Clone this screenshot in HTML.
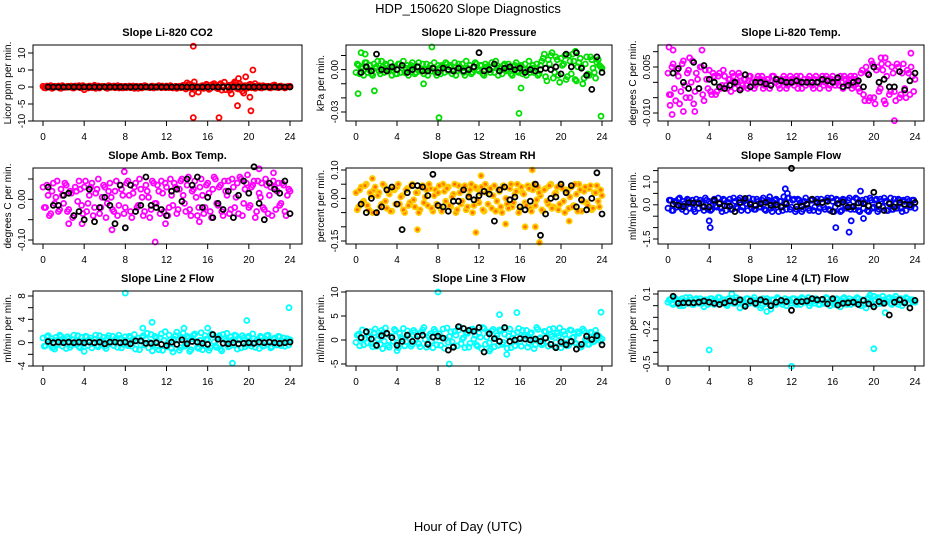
<!DOCTYPE html>
<html><head><meta charset="utf-8"><style>
html,body{margin:0;padding:0;background:#fff;}
svg{display:block;font-family:"Liberation Sans",sans-serif;}
</style></head><body>
<svg id="chart" width="936" height="540" viewBox="0 0 936 540" xmlns="http://www.w3.org/2000/svg">
<text x="468" y="13" font-size="13" text-anchor="middle">HDP_150620  Slope Diagnostics</text>
<text x="468" y="531" font-size="13" text-anchor="middle">Hour of Day (UTC)</text>
</svg>
<script>
// ---------- data ----------
const xTicks = [0,4,8,12,16,20,24];
const titles = ["Slope Li-820 CO2","Slope Li-820 Pressure","Slope Li-820 Temp.","Slope Amb. Box Temp.","Slope Gas Stream RH","Slope Sample Flow","Slope Line 2 Flow","Slope Line 3 Flow","Slope Line 4 (LT) Flow"];
const yTitles = ["Licor ppm per min.","kPa per min.","degrees C per min.","degrees C per min.","percent per min.","ml/min per min.","ml/min per min.","ml/min per min.","ml/min per min."];
const colors = ["#ff0000","#00dd00","#ff00ff","#ff00ff","#ffcc00","#0000ff","#00ffff","#00ffff","#00ffff"];
const fills = ["none","none","none","none","#ff7000","none","none","none","none"];

const c1 = [0.2,-0.3,0.1,0.4,-0.2,0,0.3,-0.4,0.1,-0.1,0.2,0.3,-0.3,0,0.4,-0.2,-0.8,0.1,0.3,-0.2,0.5,0,-0.3,0.2,0.1,-0.4,0.3,0,-0.2,0.4,0.1,-0.3,0.2,0,-0.2,0.3,0.1,-0.4,0.2,0,0.3,-0.1,0.2,-0.3,0.1,0.4,-0.2,0,0.3,-0.2,0.1,0,-0.4,0.2,0.3,-0.1,1.2,0.8,-0.5,0.2,0.1,-0.3,0.4,0,0.6,-0.4,0.8,0.2,-0.5,1,0.4,-0.8,0.5,-0.3,0.9,1.2,-0.6,0.3,0.2,-0.4,0.6,-0.2,0.3,0,0.4,-0.3,0.1,0.2,-0.2,0.3,0.6,-0.1,0.2,0,-0.3,0.1,0.2];
const c2 = [-0.002,0.003,0.001,-0.004,0.005,0,-0.003,0.004,0.002,-0.001,0.006,-0.002,0.003,0,-0.004,0.002,-0.003,0.004,0.001,-0.002,0.003,0,0.005,-0.003,0.002,-0.001,0.004,0,-0.004,0.003,0.001,-0.002,0.003,-0.003,0.002,0.005,-0.001,0.003,0,-0.004,0.004,0.001,-0.002,0.006,0,-0.003,0.002,0.004,-0.001,0.003,-0.004,0.002,0,0.005,-0.002,0.003,0.001,-0.003,0.004,0,0.002,-0.004,0.003,-0.001,0.002,-0.003,0.004,0,-0.002,0.003,0.001,-0.004,0.003,0.008,-0.005,0.007,0.010,-0.006,0.009,-0.004,0.008,0.004,-0.007,0.010,-0.003,0.006,-0.008,0.005,0.002,-0.006,0.009,-0.004,0.007,-0.002,0.005,0.003,0.001];
const c3 = [0.003,-0.004,0.006,-0.006,0.002,-0.003,0.007,-0.005,0.004,0,-0.007,0.003,-0.002,0.005,-0.006,0.001,0.004,-0.004,0.002,-0.003,0.003,-0.001,0.002,-0.002,0.001,0.003,-0.002,0,0.002,-0.001,0.001,-0.002,0.002,0,-0.001,0.002,0.001,-0.002,0,0.001,-0.001,0.002,0,-0.001,0.001,0.002,-0.002,0,0.001,-0.001,0.002,0,-0.002,0.001,0,0.002,-0.001,0.001,0,-0.002,0.002,0,0.001,-0.001,0.002,-0.001,0,0.002,-0.002,0.001,0,0.002,-0.001,0.001,-0.002,0.003,-0.004,0.005,-0.006,0.007,-0.005,0.004,-0.003,0.006,-0.006,0.002,-0.004,0.005,-0.003,0.006,-0.005,0.003,-0.002,0.004,-0.004,0.002,0.001];
const c4 = [0.03,-0.02,0.01,-0.035,0.04,0.005,-0.03,0.025,-0.01,0.035,-0.025,0.015,-0.04,0.02,0.045,-0.015,0.03,-0.03,0.01,0.04,-0.02,0.025,-0.035,0.005,0.03,-0.01,0.04,-0.025,0.02,-0.04,0.035,0.01,-0.02,0.045,-0.03,0.015,0.04,-0.015,0.025,-0.04,0.035,0.005,-0.025,0.04,-0.01,0.02,0.045,-0.03,0.03,-0.02,0.01,0.04,-0.035,0.025,0.05,-0.01,0.035,-0.025,0.02,0.045,-0.04,0.03,0.01,-0.02,0.04,-0.03,0.025,0.05,-0.015,0.035,-0.04,0.02,0.045,-0.025,0.03,0.005,-0.035,0.05,-0.01,0.04,-0.02,0.03,0.045,-0.03,0.015,0.04,-0.025,0.035,0.01,-0.04,0.03,0.02,-0.015,0.04,-0.03,0.01,0.02];
const c5 = [0.02,-0.03,0.04,-0.01,0.05,-0.04,0.01,0.03,-0.05,0.02,-0.02,0.045,-0.035,0.015,-0.045,0.03,0.04,-0.02,0.01,-0.05,0.035,-0.015,0.05,-0.03,0.02,-0.04,0.045,0.005,-0.025,0.035,-0.045,0.03,0.02,-0.035,0.05,-0.01,0.04,-0.03,0.015,-0.05,0.045,-0.02,0.03,-0.04,0.01,0.05,-0.025,0.035,-0.015,0.04,-0.045,0.02,0.03,-0.035,0.045,-0.01,0.025,-0.05,0.04,-0.02,0.035,-0.03,0.015,0.05,-0.04,0.02,-0.015,0.045,-0.035,0.03,-0.025,0.04,0.01,-0.045,0.035,-0.02,0.05,-0.03,0.02,-0.04,0.045,-0.01,0.03,-0.035,0.04,-0.025,0.015,0.05,-0.045,0.025,-0.015,0.035,-0.04,0.02,0.045,-0.03,0.01];
const c6 = [-0.15,0.2,-0.25,0.1,0.25,-0.1,0.15,-0.3,0.2,0.05,-0.2,0.25,-0.15,0.1,-0.25,0.2,0.15,-0.2,0.25,-0.1,0.1,-0.3,0.2,-0.05,0.25,-0.2,0.15,-0.15,0.3,-0.1,0.2,-0.25,0.1,0.25,-0.2,0.15,-0.1,0.3,-0.25,0.2,-0.15,0.1,0.25,-0.3,0.15,0.35,-0.2,0.3,-0.1,0.25,-0.2,0.2,-0.3,0.15,0.05,-0.25,0.2,-0.1,0.25,-0.15,0.1,-0.2,0.3,-0.25,0.15,-0.1,0.2,-0.3,0.25,-0.05,0.2,-0.2,0.15,0.3,-0.25,0.1,-0.15,0.25,-0.3,0.2,-0.1,0.25,-0.2,0.15,0.3,-0.25,0.1,-0.2,0.25,-0.15,0.2,-0.3,0.15,0.25,-0.1,0.2,-0.15];
const c7 = [0.8,-0.5,1.2,0.3,-0.8,0.9,-0.3,1.1,0.5,-1,0.7,-0.4,1.3,0.2,-0.7,0.9,-0.2,1,0.4,-0.9,0.6,-0.5,1.2,0.3,-0.6,0.8,-0.2,1.1,0.5,-0.8,0.7,-0.3,1,-0.5,0.9,0.2,-1.1,0.8,-0.4,1.2,0.6,-0.9,1.4,-0.3,0.8,-1.2,1.5,0.4,-0.7,1.3,-1,0.6,1.8,-1.3,0.9,-0.6,1.1,-1.5,0.7,1.5,-0.8,0.4,-1.2,1.2,0.6,-0.9,1.3,-0.5,0.9,-1.1,1.4,0.3,-0.7,1,-0.4,1.2,0.5,-0.9,0.8,-0.3,1.1,-0.6,0.7,0.4,-1,0.9,-0.5,1.2,0.3,-0.7,0.8,-0.4,1,0.2,-0.6,0.7,0.5];
const c8 = [-0.5,1.2,0.3,-1,1.8,0.5,-0.8,1.5,-1.3,0.9,2,-0.3,1.2,-1.5,0.7,2.2,-0.6,1.4,0.2,-1.2,1.9,0.4,-0.9,1.6,0.8,-1.4,2.1,0.1,-0.7,1.3,-1.6,1.8,0.6,-1.1,2.3,0.3,-0.5,1.7,-1.3,1,2,-0.8,0.5,1.6,-1.5,2.2,0.2,-1,1.4,-1.8,2.4,0.6,-0.6,1.9,-1.4,0.9,2.1,-0.9,1.2,-1.7,2.3,0.4,-1.2,1.6,-0.4,2,0.8,-1.5,1.3,0.1,-1,2.2,0.5,-0.7,1.7,-1.3,1.1,2.4,-0.5,0.9,-1.6,1.8,0.3,-1.1,2,0.6,-0.8,1.4,-1.4,1.9,0.2,-0.9,1.5,-0.3,1.1,0.7,0.2];
const c9 = [0.03,0.05,0.01,0.06,0.02,0.04,0,0.07,0.03,0.05,0.01,0.06,0.02,0.04,-0.01,0.05,0.03,0.06,0.01,0.04,0.07,0.02,0.05,0,0.03,0.06,0.02,0.05,-0.02,0.04,0.01,0.06,0.03,0.05,0.01,0.04,-0.02,0.06,0.02,0.04,-0.03,0.05,0.01,0.06,0.03,0.04,0,0.05,0.02,0.06,0.01,0.04,0.07,0.03,0.05,0,0.06,0.02,0.04,0.01,0.05,0.03,0.06,0,0.04,0.02,0.05,-0.01,0.06,0.03,0.04,0.01,0.05,0.02,0.06,0,0.04,-0.02,0.07,0.03,0.08,0.01,0.06,0.02,0.05,0.04,0.07,0.01,0.06,0.03,0.05,0,0.04,0.06,0.02,0.05,0.03];

// second colored sample set (offset by 1/8 h)
const d1 = [-0.2,0.3,0,-0.4,0.2,0.1,-0.3,0.4,-0.1,0.2,0,-0.3,0.3,0.1,-0.2,0.4,0,-0.3,0.2,0.1,-0.4,0.3,0,0.2,-0.2,0.4,-0.1,0.3,0,-0.3,0.2,0.1,-0.2,0.3,0,-0.4,0.2,0.1,-0.3,0.4,0,-0.2,0.3,0.1,-0.1,0.2,0.3,-0.2,0,0.4,-0.3,0.2,0.1,-0.2,0.5,-0.6,0.7,-0.3,0.4,0,-0.2,0.3,-0.4,0.8,-0.7,0.5,1,-0.3,0.6,-0.9,1.4,0.2,-1,0.7,1.5,-0.5,0.9,-1.2,0.4,-0.3,0.8,0.1,-0.4,0.3,-0.2,0.4,0,0.2,-0.3,0.5,0.1,-0.2,0.3,0,-0.1,0.2];
const d2 = [0.004,-0.003,0.002,0.005,-0.002,0.003,-0.004,0.001,0.006,-0.003,0.002,0.004,-0.001,0.005,0.001,-0.003,0.004,-0.002,0.006,0.001,-0.004,0.003,0.002,-0.002,0.005,0,-0.003,0.004,0.001,-0.001,0.005,-0.004,0.001,0.003,-0.002,0.004,0.002,-0.003,0.005,-0.001,0.002,0.004,-0.004,0.001,0.003,-0.002,0.005,0,0.003,-0.003,0.004,0.001,-0.002,0.002,0.006,-0.004,0.001,0.003,-0.001,0.004,-0.003,0.002,0.005,-0.002,0.003,0,-0.004,0.006,0.001,-0.002,0.004,-0.003,0.006,0.011,-0.008,0.004,0.012,-0.002,0.007,-0.009,0.003,0.010,-0.005,0.006,0.011,-0.007,0.002,0.008,-0.010,0.004,-0.003,0.009,0.001,-0.006,0.007,0.002];
const d3 = [-0.004,0.005,-0.002,0.004,-0.007,0.006,-0.001,0.003,-0.005,0.007,-0.003,0.001,0.005,-0.004,0.004,-0.002,-0.003,0.003,-0.004,0.002,-0.002,0.004,-0.001,0.001,-0.003,0.002,0,0.003,-0.002,0.001,-0.001,0.002,0,-0.002,0.001,0,0.002,-0.001,0.001,-0.002,0.002,0,0.001,-0.002,0,0.001,-0.001,0.002,0,0.001,-0.002,0.002,0,-0.001,0.001,0,-0.002,0.002,0,0.001,-0.001,0.002,-0.002,0.001,0,0.001,-0.001,0,0.002,-0.001,0.001,-0.002,0.002,0,-0.003,0.004,-0.006,0.003,-0.005,0.006,-0.007,0.005,-0.002,0.004,-0.007,0.006,-0.003,0.003,-0.006,0.005,-0.004,0.006,-0.005,0.003,0.005,-0.003];
const d4 = [-0.02,0.035,-0.04,0.02,-0.01,0.045,-0.025,0.01,0.04,-0.03,0.02,-0.045,0.03,-0.005,0.025,-0.035,0.045,-0.01,0.03,-0.04,0.015,0.05,-0.02,0.035,-0.045,0.02,0.005,-0.03,0.045,-0.015,0.025,-0.035,0.04,0.01,-0.045,0.03,-0.02,0.05,0.005,-0.03,0.02,-0.045,0.045,-0.01,0.035,-0.035,0.015,0.04,-0.04,0.05,-0.015,0.03,-0.025,0.045,0.01,-0.03,0.055,-0.04,0.025,0.005,-0.02,0.05,-0.035,0.035,0.015,-0.045,0.055,-0.01,0.03,-0.03,0.045,0.01,-0.035,0.05,-0.02,0.04,0.055,-0.04,0.025,0.06,-0.015,0.035,-0.045,0.045,0.005,-0.02,0.05,-0.035,0.03,0.045,-0.025,0.04,-0.01,0.035,-0.04,0.025];
const d5 = [-0.04,0.03,-0.015,0.045,-0.025,0.02,-0.05,0.04,0.01,-0.03,0.05,-0.01,0.025,-0.045,0.035,-0.02,0.05,0.005,-0.04,0.03,-0.025,0.045,-0.005,0.02,-0.05,0.04,-0.015,0.03,0.05,-0.035,0.01,-0.02,0.045,-0.045,0.025,0.035,-0.025,0.005,0.05,-0.04,0.02,-0.01,0.045,-0.03,0.03,-0.05,0.04,-0.005,0.02,-0.04,0.05,-0.02,0.035,0.01,-0.045,0.03,-0.03,0.045,0,-0.035,0.05,-0.015,0.025,-0.05,0.04,0.015,-0.025,0.035,-0.045,0.05,-0.005,0.02,-0.04,0.03,-0.01,0.045,-0.035,0.015,0.04,-0.02,0.035,-0.05,0.025,0.005,-0.03,0.05,-0.045,0.03,-0.01,0.04,-0.025,0.045,-0.035,0.02,-0.01,0.03];
const d6 = [0.2,-0.25,0.15,-0.1,0.3,-0.2,0.05,0.25,-0.15,0.2,-0.3,0.1,0.2,-0.1,0.3,-0.2,-0.25,0.15,-0.05,0.3,-0.15,0.25,-0.25,0.1,-0.2,0.3,-0.1,0.2,-0.25,0.15,0.05,0.3,-0.15,-0.2,0.25,-0.1,0.2,-0.2,0.15,0.35,-0.3,0.2,-0.1,0.15,-0.25,0.1,0.3,-0.2,0.2,-0.3,0.25,0.1,-0.2,0.3,-0.15,0.2,-0.25,0.15,-0.3,0.25,-0.1,0.2,-0.2,0.3,-0.3,0.25,0.05,-0.25,0.2,-0.15,0.3,-0.1,-0.2,0.25,-0.3,0.2,0.1,-0.25,0.3,-0.15,0.2,-0.3,0.25,-0.1,0.15,-0.25,0.3,-0.2,0.1,0.25,-0.15,0.2,-0.25,0.15,-0.1,0.2];
const d7 = [-0.6,1,-0.2,0.7,-1.1,0.4,1.3,-0.6,0.2,1,-0.8,0.5,-0.3,1.2,-0.9,0.3,1.1,-0.5,0.8,-0.2,1.3,-0.7,0.4,0.9,-1,1.2,0.2,-0.5,0.8,1.3,-0.9,0.4,-0.2,1.1,-0.6,1.4,0.3,-1.2,0.9,-0.4,1.6,0.1,-1.4,1.1,-0.6,0.8,-1.3,1.9,-0.2,0.5,-1.6,1.2,0.4,-0.9,1.6,-0.4,0.8,-1.2,1.3,0.2,-1,1.7,-0.5,0.6,-1.3,1.5,0.1,-0.8,1.2,-1.4,0.7,1.6,-0.6,0.4,1.3,-1.1,0.6,1.2,-0.7,0.9,-0.2,1.5,-0.8,0.5,1.1,-0.6,0.3,1.3,-0.9,0.6,-0.3,1.1,-0.5,0.8,0.3,-0.4];
const d8 = [1,-1.2,2.1,0.4,-0.6,1.7,-1.4,2.3,0.2,-0.9,1.5,2.5,-1.1,0.8,-0.3,1.9,-1.6,0.6,2.4,-0.4,1.1,-1.3,2,0.3,-0.8,1.6,2.6,-1.5,0.9,-0.2,2.2,-1,1.3,0.5,-1.7,2.5,0.7,-0.4,1.8,-1.2,2.7,0.2,-1.6,1.4,-0.7,2.3,1,-1.3,0.6,2.6,-0.9,1.6,-1.9,2.2,0.4,-1.1,1.9,-0.5,2.5,0.8,-1.6,1.3,-0.2,2.4,-1.3,0.9,2,-0.7,1.5,-1.8,2.6,0.3,-1,1.8,-0.4,2.2,0.7,-1.4,1.4,2.5,-0.8,1.1,-1.2,2.1,0.5,-0.6,1.7,-1.5,2.3,0.1,-0.9,1.6,-0.4,2,0.9,-0.2];
const d9 = [0.05,0.02,0.07,0.03,0,0.06,0.04,0.02,0.07,0.01,0.05,0.03,0.06,0.02,0.05,0.01,0.06,0.04,0.02,0.07,0.03,0.05,0.01,0.06,0.04,0.02,0.07,0.03,0.05,0,0.06,0.02,0.04,0.07,0.02,0.05,0,0.04,0.06,0.01,0.05,0.02,0.07,0.03,0.01,0.06,0.03,0.04,0.06,0.02,0.05,0.01,0.06,0.03,0.07,0.02,0.04,0.06,0.01,0.05,0.02,0.07,0.03,0.05,0.01,0.06,0.03,0.04,0.07,0.01,0.06,0.03,0.04,0.07,0.02,0.05,0.01,0.06,0.09,0.01,0.05,0.07,0.02,0.08,0.03,0.06,0.02,0.05,0.08,0.01,0.06,0.03,0.07,0.02,0.05,0.04];

const k1 = [0,0,0,0,0,0,0,0,0,0,0,0,0,0,0,0,0,0,0,0,0,0,0,0,0,0,0,0,0,0,0,0,0,0,0,0,0,0,0,0,0,0,0,0,0,0,0,0];
const k2 = [-0.002,0.002,-0.001,0.011,0,-0.001,0.002,0,0.003,-0.002,0,0.002,-0.001,-0.001,0.001,-0.002,0.001,0,-0.001,0.001,-0.001,0,0.002,0.012,-0.001,0,0.004,-0.001,0.001,0.002,0,0.001,-0.002,0,-0.001,0,0.001,0,0.002,-0.003,0.011,0.002,0.012,0.001,-0.004,-0.014,0.009,-0.002];
const k3 = [0.003,0.0045,0,-0.002,0.0065,-0.002,0.0055,0.001,0,-0.0015,-0.002,-0.001,0,-0.0025,0.0025,-0.0015,0,0,-0.0005,-0.001,0.001,0.0005,0,0,0.0005,0,0,0,0,0.001,0.0005,0,0.0015,-0.0015,-0.001,0,0.0005,-0.0015,0.0025,0.005,0,0.001,-0.0015,-0.0015,0.0035,-0.0025,0.0005,0.003];
const k4 = [0.03,-0.015,-0.015,0.01,0.015,-0.04,-0.03,-0.05,0.025,-0.055,-0.02,0.005,-0.015,-0.06,0.035,-0.07,0.035,-0.03,-0.015,0.055,-0.015,-0.02,-0.025,-0.04,0.02,0.025,-0.005,0.05,0.035,0.055,-0.02,0.005,-0.045,-0.01,-0.025,0.02,-0.045,0.01,0.045,0.015,0.08,-0.01,-0.05,0.04,0.025,0.015,0.045,-0.035];
const k5 = [-0.02,-0.05,0.00,-0.05,-0.03,0.03,0.04,-0.02,-0.11,0.02,0.045,0.045,0.04,0.01,0.085,-0.025,-0.03,-0.045,-0.01,-0.01,0.03,0.005,-0.005,0.01,0.025,0.015,-0.08,0.03,0.04,-0.005,0.005,-0.03,-0.04,-0.01,0.05,-0.13,-0.055,0.0,0.005,0.05,0.02,0.045,-0.03,-0.005,-0.04,0.00,0.09,-0.055];
const k6 = [0.03,-0.02,-0.08,0.1,0.08,0.06,-0.08,-0.1,0.2,0.05,-0.05,-0.06,-0.3,0.1,0.28,0.02,-0.03,0.05,0.1,-0.02,0,-0.1,0.05,1.6,-0.08,-0.06,0.02,0.25,0.1,0.1,0.15,-0.3,0.05,0.12,-0.1,-0.08,0.08,0.05,-0.05,0.55,-0.02,-0.25,0.05,-0.1,0.1,0.02,0.0,0.1];
const k7 = [0.2,0,0.1,0,0.1,0,0.1,0,0.1,0,0.1,-0.2,0.1,0.1,0,0.1,-0.2,0.3,0.3,-0.1,-0.1,0,-0.3,-0.5,0.1,-0.3,0.5,-0.2,0.2,0.1,-0.1,-0.3,1.4,0.6,-0.1,-0.2,0,-0.2,-0.1,0,-0.1,0.1,0,0.1,0,-0.1,0,0.1];
const k8 = [0.5,1.7,0.2,-1.1,0.9,1.4,0.5,-1.1,-0.3,1,-0.3,0.8,1,-0.9,0.6,0.8,0.4,-2.1,-1.5,2.8,2.4,2,1.8,2.6,-2.5,1.3,0.3,-0.3,2.6,-0.3,0,0.3,0.2,0,0.2,-0.3,0.4,-0.9,-1.6,-0.4,-1,-0.3,-1.9,-0.9,0.8,0.1,0.9,-1];
const k9 = [0.08,0.02,0.025,0.025,0.025,0.03,0.04,0.03,0.02,0.01,0.025,0.04,0.03,0.05,-0.005,0.04,0.02,0.05,0.035,0,0.03,0.045,0.035,-0.04,0.035,0.035,0.04,0.06,0.05,0.055,0.015,0.06,0.005,0.02,0.025,0.03,0.01,0.045,0.015,-0.01,0.035,0.02,-0.08,0.03,0.05,0.025,-0.02,0.045];

const o1h = [14.6,14.6,14.5,14.7,15.1,17.1,18.3,18.9,19,19.5,19.7,20.1,20.2,20.4,20.6];
const o1v = [12,-9,-2,1.5,-1.5,-9,-2,-5.5,2.5,-1.8,3,-3,-7,5,1];
const o2h = [0.2,0.5,1.8,7.4,8.1,15.9,16.1,23.9,0.9,6.6,21.4];
const o2v = [-0.017,0.012,-0.015,0.016,-0.034,-0.031,-0.013,-0.033,0.011,-0.010,0.013];
const o3h = [0.1,0.5,3.3,0.4,1.5,2.6,22,23.6,0.2,2.1,20.7,21.1];
const o3v = [0.0115,0.0105,0.0105,-0.0105,-0.0095,-0.0095,-0.0125,0.0095,-0.0075,0.008,0.008,0.008];
const o4h = [10.9,21,7.9,2.5,3.8,15.2,6.7,11.9,22.4];
const o4v = [-0.105,0.075,0.068,-0.06,-0.06,-0.055,-0.075,-0.06,0.065];
const o5h = [17.2,17.9,6,11.7,14.6,16.5,17.5,20.8,12.2,1.6];
const o5v = [0.1,-0.155,-0.11,-0.12,-0.09,-0.1,-0.1,-0.08,0.08,0.07];
const o6h = [4,4.1,11.4,16.3,17.6,17.8,18.7,11.6,19];
const o6v = [-0.7,-1.0,0.7,-1.0,-1.2,-0.7,0.6,0.5,-0.6];
const o7h = [8,23.9,19.8,10.6,9.7,18.4,13.7,16,0.9,4];
const o7v = [8.5,6,3.8,3.5,2.5,-3.5,2.5,2.5,-0.9,-1.5];
const o8h = [8,15.7,14,23.9,9.1,2.6,4,14.7,13];
const o8v = [10,5.7,5.3,5.8,-5,-1.8,-2.2,-3,-2.3];
const o9h = [4,12,20,6.2,9.6,21.1];
const o9v = [-0.38,-0.52,-0.37,0.1,-0.05,-0.06];

const colored = [c1,c2,c3,c4,c5,c6,c7,c8,c9];
const colored2 = [d1,d2,d3,d4,d5,d6,d7,d8,d9];
const blacks = [k1,k2,k3,k4,k5,k6,k7,k8,k9];
const outH = [o1h,o2h,o3h,o4h,o5h,o6h,o7h,o8h,o9h];
const outV = [o1v,o2v,o3v,o4v,o5v,o6v,o7v,o8v,o9v];

const yTicks = [[-10,-5,0,5,10],[-0.03,-0.02,-0.01,0,0.01],[-0.01,-0.005,0,0.005,0.01],[-0.1,-0.05,0,0.05],[-0.15,-0.1,-0.05,0,0.05,0.1],[-1.5,-1,-0.5,0,0.5,1,1.5],[-4,-2,0,2,4,6,8],[-5,0,5,10],[-0.5,-0.4,-0.3,-0.2,-0.1,0,0.1]];
const yTickLabels = [["-10","-5","0","5","10"],["-0.03","","","0.00",""],["-0.010","","","0.005",""],["-0.10","","0.00",""],["-0.15","","","0.00","","0.10"],["-1.5","","","0.0","","1.0",""],["-4","","0","","4","","8"],["-5","0","5","10"],["-0.5","","","-0.2","","","0.1"]];

// ---------- layout (not data) ----------
const cols = [{l:33,r:302,x0:43,x24:290},{l:346,r:612,x0:356,x24:602},{l:658,r:924,x0:668,x24:915}];
const rows = [{t:45,b:121,title:36},{t:168,b:244,title:159},{t:291,b:366,title:282}];
const ycal = [[10,53,-10,121],[0.01,55.5,-0.03,112],[0.005,67,-0.01,113],[0.05,179,-0.1,240],[0.1,170,-0.15,241],[1,182,-1.5,239],[8,296,-4,366],[10,292,-5,364],[0.1,294,-0.5,364]];

const svg = document.getElementById('chart');
const NS = 'http://www.w3.org/2000/svg';
function mk(tag, attrs, parent){
  const e = document.createElementNS(NS, tag);
  for (const k in attrs) e.setAttribute(k, attrs[k]);
  (parent||svg).appendChild(e);
  return e;
}

for (let p=0;p<9;p++){
  const C = cols[p%3], R = rows[Math.floor(p/3)], cal = ycal[p];
  const xS = h => C.x0 + h*(C.x24-C.x0)/24;
  const yS = v => cal[1] + (v-cal[0])*(cal[3]-cal[1])/(cal[2]-cal[0]);
  const g = mk('g',{});
  
  

  const t = mk('text',{x:(C.l+C.r)/2,y:R.title,'font-size':11,'font-weight':'bold','text-anchor':'middle'},g);
  t.textContent = titles[p];
  
  

  const yt = mk('text',{x:0,y:0,'font-size':10,'text-anchor':'middle',transform:`translate(${C.l-22},${(R.t+R.b)/2}) rotate(-90)`},g);
  yt.textContent = yTitles[p];
  
  

  const sg = mk('g',{fill:fills[p],stroke:colors[p],'stroke-width':1.8},g);
  
  
  const vals = colored[p];
  vals.forEach((v,i)=>{
    const h = i*24/(vals.length-1);
    const c = mk('circle',{cx:xS(h).toFixed(1),cy:yS(v).toFixed(1),r:2.5},sg);
    
    
  });
  const vals2 = colored2[p];
  vals2.forEach((v,i)=>{
    const h = 0.125 + i*0.25;
    const c = mk('circle',{cx:xS(h).toFixed(1),cy:yS(v).toFixed(1),r:2.5},sg);
    
    
  });
  outH[p].forEach((h,i)=>{
    const c = mk('circle',{cx:xS(h).toFixed(1),cy:yS(outV[p][i]).toFixed(1),r:2.5},sg);
    
    
  });
  const bg = mk('g',{fill:'none',stroke:'#000','stroke-width':1.8},g);
  
  
  blacks[p].forEach((v,i)=>{
    const h = 0.5 + i*0.5;
    const c = mk('circle',{cx:xS(h).toFixed(1),cy:yS(v).toFixed(1),r:2.5},bg);
    
    
  });

  const box = mk('rect',{x:C.l,y:R.t,width:C.r-C.l,height:R.b-R.t,fill:'none',stroke:'#000','stroke-width':1},g);
  
  

  xTicks.forEach(h=>{
    const x = xS(h);
    mk('line',{x1:x,x2:x,y1:R.b,y2:R.b+5,stroke:'#000'},g);
    const tl = mk('text',{x:x,y:R.b+19,'font-size':10,'text-anchor':'middle'},g);
    tl.textContent = String(h);
    
    
  });
  yTicks[p].forEach((v,i)=>{
    const y = yS(v);
    mk('line',{x1:C.l-5,x2:C.l,y1:y,y2:y,stroke:'#000'},g);
    const lab = yTickLabels[p][i];
    if (lab){
      const tl = mk('text',{x:0,y:0,'font-size':10,'text-anchor':'middle',transform:`translate(${C.l-8},${y}) rotate(-90)`},g);
      tl.textContent = lab;
      
      
    }
  });
}
</script>
</body></html>
